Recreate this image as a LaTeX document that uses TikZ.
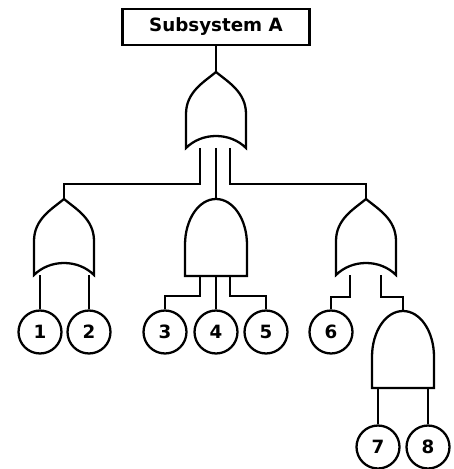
\documentclass[tikz,border=0pt]{standalone}
\usepackage{fontspec}
\setmainfont{DejaVu Sans}

\begin{document}
\begin{tikzpicture}[x=0.02cm,y=-0.02cm,line width=1.3pt,
  topevent/.style={rectangle,draw,minimum width=3.74cm,minimum height=0.72cm,inner sep=0pt,font=\fontsize{10.4}{12}\selectfont\bfseries},
  basic/.style={circle,draw,minimum size=0.86cm,inner sep=0pt,font=\fontsize{10.4}{12}\selectfont\bfseries},
  orgate/.pic={\draw[fill=white] (0,0) .. controls (-12,10) and (-30,20) .. (-30,42) -- (-30,76)
      .. controls (-14,60) and (14,60) .. (30,76) -- (30,42) .. controls (30,20) and (12,10) .. (0,0) -- cycle;},
  andgate/.pic={\draw[fill=white] (-31,77) -- (-31,46) .. controls (-31,20) and (-17,0) .. (0,0)
      .. controls (17,0) and (31,20) .. (31,46) -- (31,77) -- cycle;}]
\useasboundingbox (0,0) rectangle (453,469);

% Nodes
\node[topevent] (sysA) at (216,27) {Subsystem A};
\node[basic] (e1) at (40,332) {1};
\node[basic] (e2) at (89,332) {2};
\node[basic] (e3) at (165,332) {3};
\node[basic] (e4) at (216,332) {4};
\node[basic] (e5) at (266,332) {5};
\node[basic] (e6) at (331,332) {6};
\node[basic] (e7) at (378,447) {7};
\node[basic] (e8) at (428,447) {8};

% Gates (apex of each gate)
\coordinate (gA) at (216,72);
\coordinate (gL) at (64,199);
\coordinate (gB) at (216,199);
\coordinate (gR) at (366,199);
\coordinate (gC) at (403,311);

% Edges
\draw (sysA) -- (gA);
\draw ([shift={(-16,76)}]gA) -- ++(0,36) -| (gL);
\draw ([shift={(0,76)}]gA) -- (gB);
\draw ([shift={(14,76)}]gA) -- ++(0,36) -| (gR);
\draw ([shift={(-24,76)}]gL) -- (e1);
\draw ([shift={(25,76)}]gL) -- (e2);
\draw ([shift={(-16,77)}]gB) -- ++(0,20) -| (e3);
\draw ([shift={(0,77)}]gB) -- (e4);
\draw ([shift={(14,77)}]gB) -- ++(0,20) -| (e5);
\draw ([shift={(-16,76)}]gR) -- ++(0,22) -| (e6);
\draw ([shift={(15,76)}]gR) -- ++(0,22) -| (gC);
\draw ([shift={(-25,77)}]gC) -- (e7);
\draw ([shift={(25,77)}]gC) -- (e8);

% Gate shapes
\pic at (gA) {orgate};
\pic at (gL) {orgate};
\pic at (gB) {andgate};
\pic at (gR) {orgate};
\pic at (gC) {andgate};
\end{tikzpicture}
\end{document}
